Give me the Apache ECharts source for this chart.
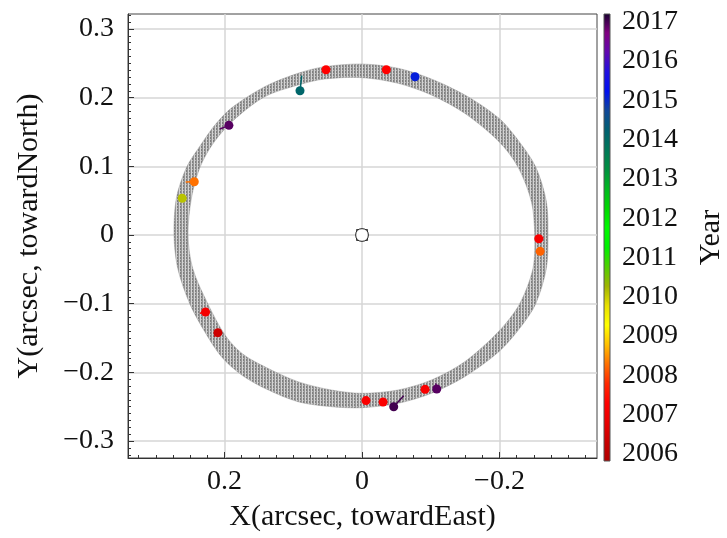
<!DOCTYPE html>
<html><head><meta charset="utf-8">
<script src="https://cdn.jsdelivr.net/npm/echarts@6/dist/echarts.min.js"></script>
<style>html,body{margin:0;padding:0;background:#fff}#c{width:727px;height:538px}</style>
</head><body><div id="c"></div>
<script>
// ---- axes / ticks ----
const xRange = [-0.3418, 0.3404];
const yRange = [-0.3247, 0.3218];
const xTicks = [-0.2, 0, 0.2];
const yTicks = [-0.3, -0.2, -0.1, 0, 0.1, 0.2, 0.3];
const yearRange = [2005.82, 2017.2];
const yearTicks = [2006, 2007, 2008, 2009, 2010, 2011, 2012, 2013, 2014, 2015, 2016, 2017];
const xMinorTicks = [];
for (let k = -13; k <= 13; k++) xMinorTicks.push(+(k * 0.025).toFixed(3));
const yMinorTicks = [];
for (let k = -32; k <= 32; k++) yMinorTicks.push(+(k * 0.01).toFixed(2));

// ---- colormap (evenly spaced from yearRange[0] to yearRange[1]) ----
const colormap = ['#b00000','#c80000','#e80000','#ff0000','#ff2800','#ff7000','#ffc000','#ffff00',
  '#e8e000','#a0b400','#50d000','#00f000','#00f800','#00d800','#00b820','#009040','#007858',
  '#006070','#104898','#0010f0','#2010e0','#6008b0','#800080','#180030'];

// ---- orbit band: outer and inner edges (x arcsec toward East, y arcsec toward North) ----
const bandOuterX = [0,0.0543,0.0931,0.1415,0.19,0.2143,0.2346,0.255,0.27,0.2735,0.2681,0.2506,0.2288,0.2041,0.175,0.1415,0.0931,0.0445,0,-0.0524,-0.1009,-0.1494,-0.1993,-0.2308,-0.2527,-0.2682,-0.2705,-0.2682,-0.2527,-0.2279,-0.1993,-0.1523,-0.1009,-0.0524];
const bandOuterY = [0.249,0.2451,0.2355,0.216,0.1849,0.1597,0.1311,0.099,0.0539,0,-0.0485,-0.1,-0.1408,-0.1777,-0.2039,-0.2232,-0.2428,-0.25,-0.2515,-0.2451,-0.2305,-0.2063,-0.1697,-0.134,-0.1,-0.0485,0,0.0485,0.099,0.1369,0.1699,0.2024,0.2272,0.2428];
const bandInnerX = [0,0.0543,0.0931,0.1415,0.1881,0.2172,0.2361,0.2481,0.2531,0.2463,0.2244,0.1983,0.1735,0.1415,0.0931,0.0445,0,-0.0524,-0.1009,-0.1494,-0.1993,-0.2294,-0.2487,-0.2512,-0.2464,-0.2269,-0.1993,-0.1494,-0.1009,-0.0524];
const bandInnerY = [0.2291,0.2272,0.2184,0.2014,0.166,0.1325,0.0976,0.0539,0,-0.0485,-0.1,-0.1471,-0.1733,-0.1918,-0.2136,-0.2257,-0.2305,-0.2257,-0.2112,-0.1845,-0.1398,-0.1,-0.0485,0,0.0485,0.099,0.1359,0.1772,0.2039,0.2209];

// ---- observations: position, model (tail end) position, epoch ----
const obsX     = [0.0524, -0.0354, -0.0771, 0.0902, 0.1936, 0.2440, 0.2615, 0.2276, 0.2096, -0.0058, -0.0306, -0.0461, -0.0917, -0.1087, -0.2571, -0.2591];
const obsY     = [0.2407, 0.2407, 0.2305, 0.2101, 0.1597, 0.0776, 0.0534, -0.1121, -0.1422, -0.2411, -0.2431, -0.2500, -0.2247, -0.2242, -0.0054, -0.0238];
const modelX   = [0.0524, -0.0354, -0.0771, 0.0877, 0.2067, 0.2565, 0.2663, 0.2358, 0.2150, -0.0058, -0.0306, -0.0606, -0.0917, -0.1073, -0.2638, -0.2591];
const modelY   = [0.2407, 0.2407, 0.2305, 0.2320, 0.1543, 0.0771, 0.0583, -0.1140, -0.1480, -0.2411, -0.2431, -0.2340, -0.2247, -0.2159, -0.0044, -0.0238];
const obsYear  = [2007.3, 2007.3, 2015.1, 2014.1, 2016.9, 2008.3, 2010.1, 2007.1, 2006.4, 2007.2, 2007.2, 2017.0, 2007.2, 2016.9, 2007.1, 2008.2];

const centerX = [0];
const centerY = [0];

// ---- chart ----
const FONT = 'Liberation Serif';
const fmt = v => { const r = Math.round(v * 10) / 10; if (r === 0) return '0'; return (r < 0 ? '\u2212' : '') + Math.abs(r).toString(); };

const pat = document.createElement('canvas');
pat.width = 3; pat.height = 3;
(function(){ const g = pat.getContext('2d');
  g.fillStyle = '#7e7e7e'; g.fillRect(0,0,3,3);
  g.fillStyle = '#959595'; g.fillRect(1,0,1,3);
  g.fillStyle = '#d4d4d4'; g.fillRect(2,0,1,3);
  g.fillStyle = '#b6b6b6'; g.fillRect(0,1,1,1);
})();

const chart = echarts.init(document.getElementById('c'), null, {renderer: 'canvas'});
const labelStyle = {fontFamily: FONT, fontSize: 28, color: '#111'};

chart.setOption({
  animation: false,
  backgroundColor: '#fff',
  grid: [
    {left: 128, right: 130, top: 14, bottom: 80, show: true, borderColor: '#444', borderWidth: 1, backgroundColor: 'transparent'},
    {left: 604, top: 14, width: 13, height: 447}
  ],
  xAxis: [
    {type: 'value', gridIndex: 0, min: xRange[0], max: xRange[1], inverse: true, position: 'bottom',
     axisLine: {show: true, onZero: false, lineStyle: {color: '#333', width: 1}},
     axisTick: {show: true, inside: true, length: 6, customValues: xTicks, lineStyle: {color: '#333'}},
     axisLabel: Object.assign({customValues: xTicks, formatter: fmt, margin: 10}, labelStyle),
     splitLine: {show: true, lineStyle: {color: '#d6d6d6', width: 1.5}},
     name: 'X(arcsec, towardEast)', nameLocation: 'middle', nameGap: 44,
     nameTextStyle: {fontFamily: FONT, fontSize: 30, color: '#111'}},
    {type: 'value', gridIndex: 0, min: xRange[0], max: xRange[1], inverse: true, position: 'bottom',
     axisLine: {show: false, onZero: false},
     axisTick: {show: true, inside: true, length: 3, customValues: xMinorTicks, lineStyle: {color: '#333'}},
     axisLabel: {show: false}, splitLine: {show: false}},
    {type: 'value', gridIndex: 1, min: 0, max: 1, show: false}
  ],
  yAxis: [
    {type: 'value', gridIndex: 0, min: yRange[0], max: yRange[1], position: 'left',
     axisLine: {show: true, onZero: false, lineStyle: {color: '#333', width: 1}},
     axisTick: {show: true, inside: true, length: 6, customValues: yTicks, lineStyle: {color: '#333'}},
     axisLabel: Object.assign({customValues: yTicks, formatter: fmt, margin: 14}, labelStyle),
     splitLine: {show: true, lineStyle: {color: '#d6d6d6', width: 1.5}},
     name: 'Y(arcsec, towardNorth)', nameLocation: 'middle', nameGap: 84, nameRotate: 90,
     nameTextStyle: {fontFamily: FONT, fontSize: 30, color: '#111'}},
    {type: 'value', gridIndex: 0, min: yRange[0], max: yRange[1], position: 'left',
     axisLine: {show: false, onZero: false},
     axisTick: {show: true, inside: true, length: 3, customValues: yMinorTicks, lineStyle: {color: '#333'}},
     axisLabel: {show: false}, splitLine: {show: false}},
    {type: 'value', gridIndex: 1, min: yearRange[0], max: yearRange[1], position: 'right',
     axisLine: {show: false},
     axisTick: {show: true, inside: false, length: 3, customValues: yearTicks, lineStyle: {color: '#333'}},
     axisLabel: Object.assign({customValues: yearTicks, margin: 12, formatter: v => String(Math.round(v))}, labelStyle),
     splitLine: {show: false},
     name: 'Year', nameLocation: 'middle', nameGap: 86, nameRotate: 90,
     nameTextStyle: {fontFamily: FONT, fontSize: 30, color: '#111'}}
  ],
  visualMap: [{type: 'continuous', show: false, min: yearRange[0], max: yearRange[1], dimension: 4, seriesIndex: 1,
    inRange: {color: colormap}}],
  series: [
    {type: 'custom', xAxisIndex: 0, yAxisIndex: 0, z: 2, silent: true,
     data: [[0, 0]],
     renderItem: function (params, api) {
       const outer = [], inner = [];
       for (let i = 0; i < bandOuterX.length; i++) outer.push(api.coord([bandOuterX[i], bandOuterY[i]]));
       for (let i = bandInnerX.length - 1; i >= 0; i--) inner.push(api.coord([bandInnerX[i], bandInnerY[i]]));
       return {type: 'compoundPath',
         shape: {paths: [
           new echarts.graphic.Polygon({shape: {points: outer, smooth: 0.3}}),
           new echarts.graphic.Polygon({shape: {points: inner, smooth: 0.3}})
         ]},
         style: {fill: {image: pat, repeat: 'repeat'}, stroke: 'rgba(150,150,150,0.45)', lineWidth: 1}};
     }},
    {type: 'custom', xAxisIndex: 0, yAxisIndex: 0, z: 4, silent: true,
     dimensions: ['x', 'y', 'mx', 'my', 'year'],
     encode: {x: [0, 2], y: [1, 3]},
     data: obsX.map((v, i) => [v, obsY[i], modelX[i], modelY[i], obsYear[i]]),
     renderItem: function (params, api) {
       const p = api.coord([api.value(0), api.value(1)]);
       const t = api.coord([api.value(2), api.value(3)]);
       const c = api.visual('color');
       return {type: 'group', children: [
         {type: 'line', shape: {x1: p[0], y1: p[1], x2: t[0], y2: t[1]}, style: {stroke: c, lineWidth: 1.5}},
         {type: 'circle', shape: {cx: p[0], cy: p[1], r: 4.5}, style: {fill: c}}
       ]};
     }},
    {type: 'scatter', xAxisIndex: 0, yAxisIndex: 0, z: 5, silent: true, symbol: 'rect', symbolSize: 11,
     itemStyle: {color: '#fff', borderColor: '#111', borderWidth: 1},
     data: centerX.map((v, i) => [v, centerY[i]])},
    {type: 'scatter', xAxisIndex: 0, yAxisIndex: 0, z: 6, silent: true, symbol: 'circle', symbolSize: 13,
     itemStyle: {color: '#fff', borderColor: '#111', borderWidth: 1},
     data: centerX.map((v, i) => [v, centerY[i]])},
    {type: 'custom', xAxisIndex: 2, yAxisIndex: 2, silent: true,
     data: [[0, yearRange[0], 1, yearRange[1]]],
     renderItem: function (params, api) {
       const a = api.coord([api.value(0), api.value(3)]);
       const b = api.coord([api.value(2), api.value(1)]);
       const stops = colormap.map((c, i) => ({offset: i / (colormap.length - 1), color: c}));
       return {type: 'rect', shape: {x: a[0], y: a[1], width: b[0] - a[0], height: b[1] - a[1]},
         style: {fill: new echarts.graphic.LinearGradient(0, 1, 0, 0, stops), stroke: '#555', lineWidth: 1}};
     }}
  ]
});
</script>
</body></html>
